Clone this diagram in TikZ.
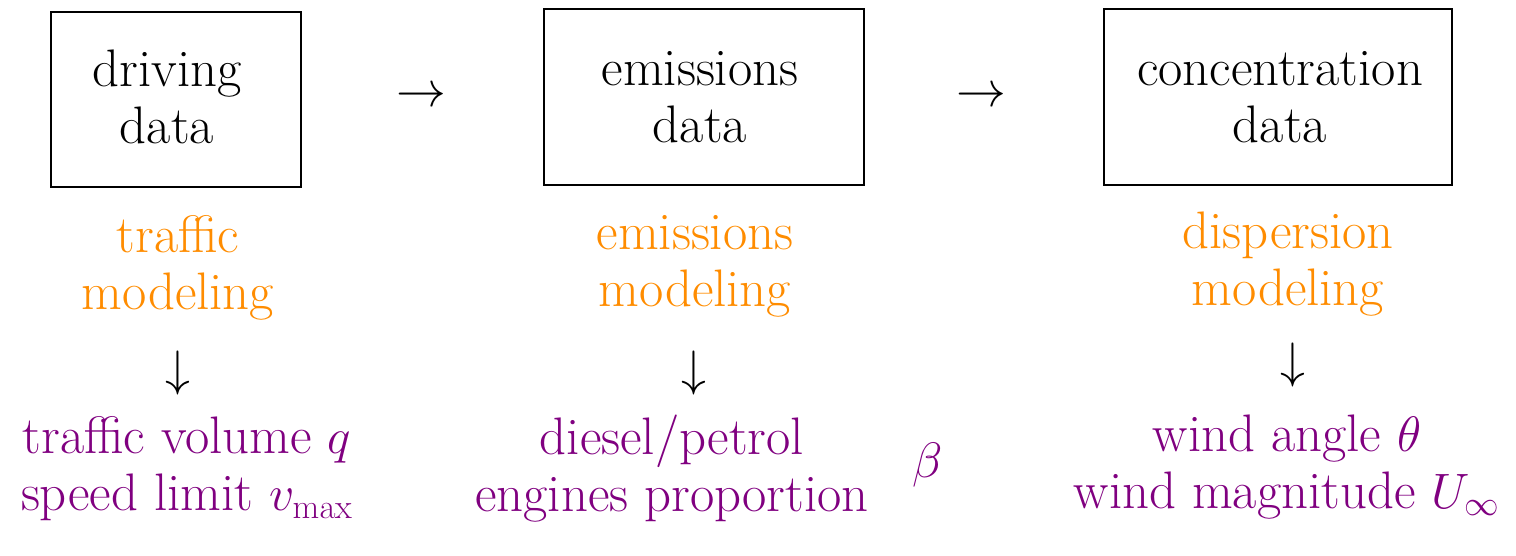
\documentclass[tikz,border=0pt]{standalone}
\definecolor{orng}{RGB}{255,140,0}
\definecolor{purp}{RGB}{128,0,128}
\begin{document}
\begin{tikzpicture}[x=0.5pt,y=-0.5pt,
  every node/.style={font=\fontsize{26.4}{28.5}\selectfont, align=center, inner sep=0pt},
  databox/.style={draw, line width=0.6pt, inner sep=0pt},
  model/.style={text=orng},
  param/.style={text=purp}]
\useasboundingbox (0,0) rectangle (1516,556);
\draw[line width=0.6pt] (51,12) rectangle (301,187);
\draw[line width=0.6pt] (544,9) rectangle (864,185);
\draw[line width=0.6pt] (1104,9) rectangle (1452,185);
\node (b1) at (167,97) {driving\\data};
\node (b2) at (700,97) {emissions\\data};
\node (b3) at (1280,97) {concentration\\data};
\node (a1) at (421,97) {$\rightarrow$};
\node (a2) at (981,97) {$\rightarrow$};
\node[model] (m1) at (178,268) {traffic\\modeling};
\node[model] (m2) at (695,266) {emissions\\modeling};
\node[model] (m3) at (1288,264) {dispersion\\modeling};
\node (d1) at (178,373) {$\downarrow$};
\node (d2) at (694,373) {$\downarrow$};
\node (d3) at (1293,365) {$\downarrow$};
\node[param] (p1) at (187,469) {traffic volume $q$\\speed limit $v_{\max}$};
\node[param] (p2) at (672,469) {diesel/petrol\\engines proportion};
\node[param] (p2b) at (928,465) {$\beta$};
\node[param] (p3) at (1287,467) {wind angle $\theta$\\wind magnitude $U_\infty$};
\end{tikzpicture}
\end{document}
